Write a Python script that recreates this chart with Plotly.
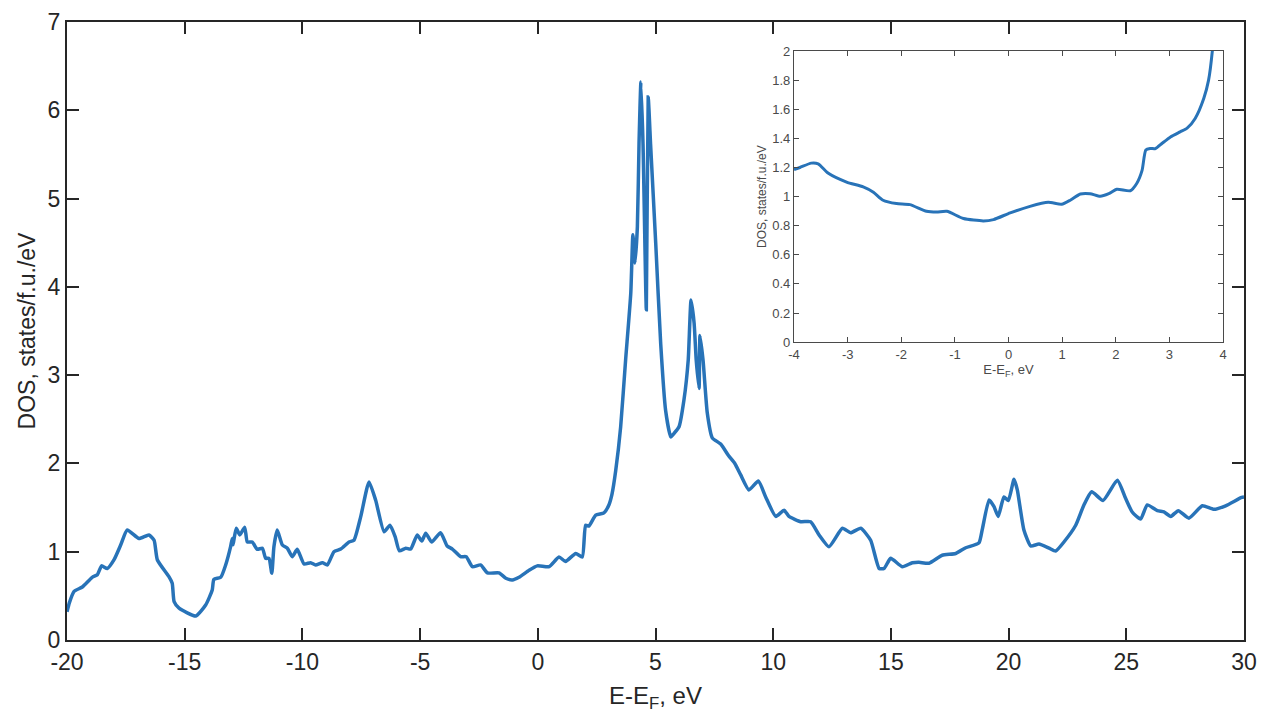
import plotly.graph_objects as go

# ---- main DOS curve (E - E_F in eV, DOS in states/f.u./eV) ----
main_E = [-20.0, -19.9, -19.7, -19.35, -18.93, -18.71, -18.53, -18.29, -18.0, -17.72,
          -17.44, -16.94, -16.52, -16.30, -16.16, -15.67, -15.53, -15.45, -15.24, -14.53,
          -14.11, -13.83, -13.76, -13.47, -13.26, -13.05, -12.98, -12.95, -12.81, -12.66,
          -12.45, -12.34, -12.13, -11.92, -11.70, -11.56, -11.42, -11.30, -11.21, -11.07,
          -10.85, -10.64, -10.43, -10.22, -9.93, -9.65, -9.44, -9.15, -8.94, -8.66,
          -8.37, -8.02, -7.81, -7.52, -7.17, -6.89, -6.53, -6.28, -6.06, -5.88,
          -5.61, -5.40, -5.12, -4.93, -4.76, -4.51, -4.13, -3.85, -3.63, -3.28,
          -3.04, -2.78, -2.43, -2.14, -1.65, -1.36, -1.08, -0.80, -0.37, -0.02,
          0.48, 0.90, 1.18, 1.61, 1.89, 2.03, 2.17, 2.46, 2.81, 3.02,
          3.15, 3.31, 3.52, 3.73, 3.95, 4.04, 4.13, 4.23, 4.30, 4.38,
          4.47, 4.61, 4.69, 4.79, 5.01, 5.22, 5.43, 5.65, 5.79, 6.00,
          6.21, 6.39, 6.51, 6.64, 6.73, 6.85, 6.89, 7.02, 7.20, 7.41,
          7.77, 8.10, 8.37, 8.62, 8.97, 9.37, 9.68, 10.11, 10.46, 10.67,
          11.17, 11.59, 11.95, 12.37, 12.94, 13.29, 13.72, 14.14, 14.50, 14.71,
          14.99, 15.48, 15.91, 16.19, 16.62, 17.18, 17.75, 18.18, 18.74, 18.88,
          19.17, 19.38, 19.56, 19.80, 19.99, 20.23, 20.37, 20.65, 20.94, 21.29,
          21.72, 22.00, 22.35, 22.85, 23.20, 23.53, 24.01, 24.62, 24.97, 25.25,
          25.61, 25.89, 26.32, 26.60, 26.89, 27.21, 27.66, 28.23, 28.72, 29.22,
          29.90, 30.0]
main_DOS = [0.32, 0.42, 0.55, 0.60, 0.71, 0.74, 0.84, 0.81, 0.91, 1.076,
            1.246, 1.15, 1.19, 1.13, 0.906, 0.717, 0.642, 0.434, 0.36, 0.272,
            0.396, 0.566, 0.687, 0.71, 0.85, 1.057, 1.15, 1.08, 1.265, 1.19,
            1.276, 1.11, 1.11, 1.027, 1.04, 0.925, 0.925, 0.755, 1.057, 1.246,
            1.076, 1.04, 0.944, 1.027, 0.861, 0.876, 0.85, 0.876, 0.85, 1.0,
            1.03, 1.11, 1.13, 1.40, 1.79, 1.585, 1.226, 1.30, 1.17, 1.01,
            1.04, 1.03, 1.19, 1.12, 1.21, 1.11, 1.215, 1.065, 1.03, 0.944,
            0.944, 0.83, 0.85, 0.76, 0.76, 0.70, 0.68, 0.71, 0.79, 0.84,
            0.83, 0.94, 0.89, 0.98, 0.94, 1.30, 1.29, 1.415, 1.44, 1.53,
            1.65, 1.92, 2.415, 3.17, 3.93, 4.59, 4.27, 4.68, 5.62, 6.32,
            5.62, 3.74, 6.15, 5.62, 4.49, 3.36, 2.60, 2.30, 2.34, 2.415,
            2.72, 3.17, 3.85, 3.59, 3.17, 2.85, 3.45, 3.17, 2.57, 2.29,
            2.22, 2.09, 2.00, 1.87, 1.70, 1.80, 1.62, 1.40, 1.47, 1.40,
            1.34, 1.34, 1.19, 1.057, 1.265, 1.215, 1.265, 1.13, 0.81, 0.81,
            0.925, 0.83, 0.875, 0.88, 0.87, 0.96, 0.98, 1.045, 1.10, 1.25,
            1.585, 1.51, 1.40, 1.62, 1.58, 1.82, 1.70, 1.246, 1.065, 1.087,
            1.04, 1.008, 1.11, 1.30, 1.53, 1.68, 1.58, 1.81, 1.605, 1.45,
            1.37, 1.53, 1.465, 1.45, 1.40, 1.465, 1.38, 1.52, 1.48, 1.52,
            1.615, 1.62]

# ---- inset curve (zoom near the Fermi level) ----
inset_E = [-4.0, -3.89, -3.68, -3.55, -3.36, -3.02, -2.71, -2.52, -2.34, -2.09,
           -1.84, -1.53, -1.34, -1.15, -0.84, -0.47, -0.28, 0.03, 0.40, 0.74,
           0.99, 1.15, 1.34, 1.52, 1.71, 1.87, 2.02, 2.27, 2.39, 2.49,
           2.56, 2.64, 2.74, 2.86, 3.02, 3.20, 3.33, 3.48, 3.64, 3.73,
           3.80, 3.84]
inset_DOS = [1.186, 1.20, 1.23, 1.225, 1.16, 1.10, 1.067, 1.03, 0.975, 0.952,
             0.945, 0.899, 0.894, 0.899, 0.849, 0.833, 0.842, 0.888, 0.933, 0.961,
             0.947, 0.975, 1.018, 1.02, 1.002, 1.02, 1.05, 1.04, 1.09, 1.18,
             1.32, 1.33, 1.33, 1.365, 1.41, 1.445, 1.47, 1.537, 1.674, 1.80,
             2.0, 2.2]

main_xticks = [-20, -15, -10, -5, 0, 5, 10, 15, 20, 25, 30]
main_xticktext = ["-20", "-15", "-10", "-5", "0", "5", "10", "15", "20", "25", "30"]
main_yticks = [0, 1, 2, 3, 4, 5, 6, 7]
inset_xticks = [-4, -3, -2, -1, 0, 1, 2, 3, 4]
inset_xticktext = ["-4", "-3", "-2", "-1", "0", "1", "2", "3", "4"]
inset_yticks = [0, 0.2, 0.4, 0.6, 0.8, 1, 1.2, 1.4, 1.6, 1.8, 2]
inset_yticktext = ["0", "0.2", "0.4", "0.6", "0.8", "1", "1.2", "1.4", "1.6", "1.8", "2"]

LINE = "#2873B8"
AX = "#262626"
IAX = "#4a4a4a"
FONT = "Liberation Sans, Arial, Helvetica, sans-serif"

fig = go.Figure()
fig.add_trace(go.Scatter(x=main_E, y=main_DOS, mode="lines",
                         line=dict(color=LINE, width=3.5, shape="spline", smoothing=0.5),
                         xaxis="x", yaxis="y", showlegend=False, hoverinfo="skip"))
fig.add_trace(go.Scatter(x=inset_E, y=inset_DOS, mode="lines",
                         line=dict(color=LINE, width=3, shape="spline", smoothing=0.6),
                         xaxis="x2", yaxis="y2", showlegend=False, hoverinfo="skip"))

fig.update_layout(
    width=1265, height=721,
    margin=dict(l=67, r=21, t=22, b=81),
    paper_bgcolor="white", plot_bgcolor="white",
    font=dict(family=FONT, color=AX),
    xaxis=dict(domain=[0, 1], range=[-20, 30], tickmode="array", automargin=False,
               tickvals=main_xticks, ticktext=main_xticktext,
               ticks="inside", ticklen=12, tickwidth=2, tickcolor=AX,
               showline=True, linecolor=AX, linewidth=2, mirror="ticks",
               showgrid=False, zeroline=False, ticklabeloverflow="allow",
               tickfont=dict(size=23, color=AX),
               title=dict(text="E-E<sub>F</sub>, eV", font=dict(size=24, color=AX), standoff=14)),
    yaxis=dict(domain=[0, 1], range=[0, 7], tickmode="array", tickvals=main_yticks,
               automargin=False,
               ticks="inside", ticklen=12, tickwidth=2, tickcolor=AX,
               showline=True, linecolor=AX, linewidth=2, mirror="ticks",
               showgrid=False, zeroline=False,
               tickfont=dict(size=23, color=AX),
               title=dict(text="DOS, states/f.u./eV", font=dict(size=23, color=AX), standoff=6)),
    xaxis2=dict(domain=[0.6177, 0.9822], anchor="y2", range=[-4, 4], tickmode="array",
                automargin=False,
                tickvals=inset_xticks, ticktext=inset_xticktext,
                ticks="inside", ticklen=5, tickwidth=1.2, tickcolor=IAX,
                showline=True, linecolor=IAX, linewidth=1.2, mirror="ticks",
                showgrid=False, zeroline=False,
                tickfont=dict(size=13, color=IAX),
                title=dict(text="E-E<sub>F</sub>, eV", font=dict(size=13, color=IAX), standoff=1)),
    yaxis2=dict(domain=[0.482, 0.953], anchor="x2", range=[0, 2], tickmode="array",
                automargin=False,
                tickvals=inset_yticks, ticktext=inset_yticktext,
                ticks="inside", ticklen=5, tickwidth=1.2, tickcolor=IAX,
                showline=True, linecolor=IAX, linewidth=1.2, mirror="ticks",
                showgrid=False, zeroline=False,
                tickfont=dict(size=13, color=IAX),
                title=dict(text="DOS, states/f.u./eV", font=dict(size=12, color=IAX), standoff=3)),
)

fig.write_html("out.html", config={"displayModeBar": False},
               post_script="document.body.style.margin='0';")
